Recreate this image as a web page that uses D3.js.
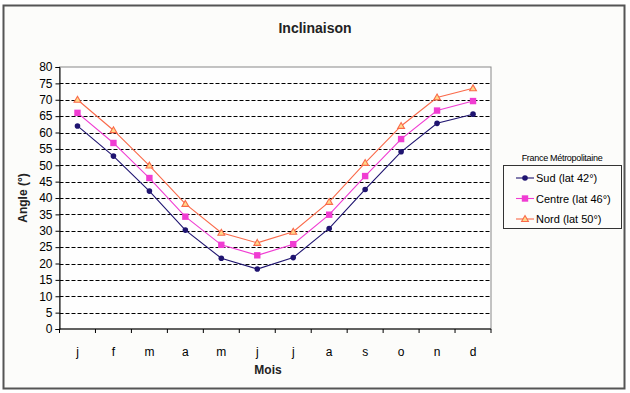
<!DOCTYPE html>
<html><head><meta charset="utf-8">
<script src="https://cdn.jsdelivr.net/npm/d3@7"></script>
<style>
body{margin:0;background:#fff;}
text{font-family:"Liberation Sans",Arial,sans-serif;}
</style></head>
<body><svg id="c" width="630" height="393"></svg>
<script>
const months = ["j","f","m","a","m","j","j","a","s","o","n","d"];
const sud    = [62, 52.8, 42.1, 30.2, 21.6, 18.3, 21.8, 30.7, 42.6, 54.1, 62.8, 65.6];
const centre = [66, 56.8, 46.1, 34.3, 25.7, 22.5, 25.9, 34.9, 46.7, 58.0, 66.7, 69.6];
const nord   = [70, 60.7, 49.9, 38.2, 29.4, 26.3, 29.7, 38.8, 50.7, 62.0, 70.7, 73.5];
const seriesNames = ["Sud (lat 42°)","Centre (lat 46°)","Nord (lat 50°)"];
const yTicks = d3.range(0, 81, 5);

const svg = d3.select("#c");
svg.append("rect").attr("x",3.5).attr("y",5.5).attr("width",621).attr("height",383)
  .attr("fill","#fcfcfa").attr("stroke","#555").attr("stroke-width",2);

const L=59.5, R=491, T=67, B=329;
const x = d3.scaleBand().domain(d3.range(12)).range([L,R]);
const y = d3.scaleLinear().domain([0,80]).range([B,T]);

svg.append("rect").attr("x",L).attr("y",T).attr("width",R-L).attr("height",B-T)
  .attr("fill","#fefefe").attr("stroke","#888").attr("stroke-width",1);

// grid
svg.append("g").selectAll("line").data(yTicks.filter(v=>v>0&&v<80)).join("line")
  .attr("x1",L).attr("x2",R).attr("y1",d=>Math.round(y(d))+0.5).attr("y2",d=>Math.round(y(d))+0.5)
  .attr("stroke","#000").attr("stroke-dasharray","4,2").attr("stroke-width",1);

// y axis
const ya = svg.append("g").attr("transform",`translate(${L},0)`)
  .call(d3.axisLeft(y).tickValues(yTicks).tickSize(4).tickPadding(3).tickFormat(d3.format("d")));
ya.select(".domain").attr("stroke","#000");
ya.selectAll("line").attr("stroke","#000");
ya.selectAll("text").attr("font-size","12px").attr("fill","#000").attr("font-family","Liberation Sans, Arial");

// x axis
const xa = svg.append("g").attr("transform",`translate(0,${B})`);
xa.append("line").attr("x1",L).attr("x2",R).attr("stroke","#000");
xa.selectAll("line.t").data(d3.range(13)).join("line").attr("class","t")
  .attr("x1",i=>L+i*x.step()).attr("x2",i=>L+i*x.step()).attr("y1",0).attr("y2",4).attr("stroke","#000");
xa.selectAll("text").data(months).join("text")
  .attr("x",(d,i)=>x(i)+x.bandwidth()/2).attr("y",27).attr("text-anchor","middle")
  .attr("font-size","12px").attr("fill","#000").text(d=>d);

// titles
svg.append("text").attr("x",315).attr("y",33).attr("text-anchor","middle")
  .attr("font-size","14px").attr("font-weight","bold").attr("fill","#222").text("Inclinaison");
svg.append("text").attr("x",268).attr("y",374).attr("text-anchor","middle")
  .attr("font-size","12px").attr("font-weight","bold").attr("fill","#222").text("Mois");
svg.append("text").attr("transform",`translate(27,${(T+B)/2}) rotate(-90)`).attr("text-anchor","middle")
  .attr("font-size","12px").attr("font-weight","bold").attr("fill","#222").text("Angle (°)");

const styles = [
  {data:sud, color:"#1f1470", marker:"circle"},
  {data:centre, color:"#f03cd2", marker:"square"},
  {data:nord, color:"#fa6a4a", marker:"triangle"}
];
const line = d3.line().x((d,i)=>x(i)+x.bandwidth()/2).y(d=>y(d));

function drawMarker(g, type, color, cx, cy){
  if(type==="circle"){
    g.append("circle").attr("cx",cx).attr("cy",cy).attr("r",2.8).attr("fill",color);
  } else if(type==="square"){
    g.append("rect").attr("x",cx-3.2).attr("y",cy-3.2).attr("width",6.4).attr("height",6.4).attr("fill",color);
  } else {
    g.append("path").attr("d",d3.symbol(d3.symbolTriangle,20)()).attr("transform",`translate(${cx},${cy+0.5})`)
      .attr("fill","#ffd98a").attr("stroke",color).attr("stroke-width",1.1);
  }
}

styles.forEach(s=>{
  svg.append("path").datum(s.data).attr("d",line).attr("fill","none").attr("stroke",s.color).attr("stroke-width",1.1);
  const g = svg.append("g");
  s.data.forEach((v,i)=>drawMarker(g, s.marker, s.color, x(i)+x.bandwidth()/2, y(v)));
});

// legend
svg.append("text").attr("x",562).attr("y",161).attr("text-anchor","middle").attr("font-size","9px")
  .attr("fill","#000").attr("letter-spacing","-0.3").text("France Métropolitaine");
svg.append("rect").attr("x",503.5).attr("y",165.5).attr("width",118).attr("height",63)
  .attr("fill","#fdfdfb").attr("stroke","#333").attr("stroke-width",1);
seriesNames.forEach((n,i)=>{
  const ly = 178 + i*20.5;
  const g = svg.append("g");
  g.append("line").attr("x1",516).attr("x2",534).attr("y1",ly).attr("y2",ly).attr("stroke",styles[i].color).attr("stroke-width",1.1);
  drawMarker(g, styles[i].marker, styles[i].color, 525, ly);
  g.append("text").attr("x",536).attr("y",ly+4).attr("font-size","11px").attr("fill","#000").text(n);
});
</script></body></html>
